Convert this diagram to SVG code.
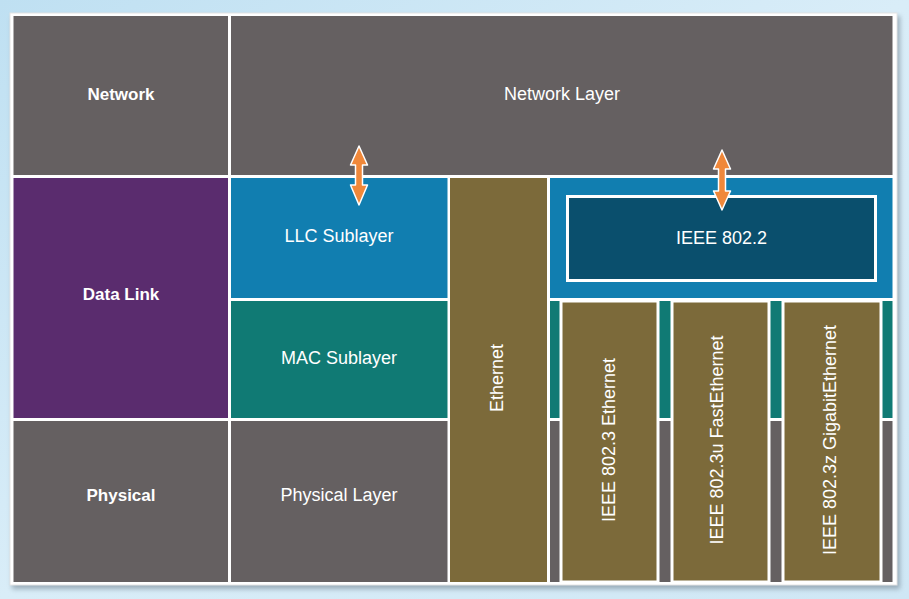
<svg xmlns="http://www.w3.org/2000/svg" width="909" height="599" viewBox="0 0 909 599">
  <defs>
    <linearGradient id="bg" x1="0" y1="0" x2="1" y2="1">
      <stop offset="0" stop-color="#bfe0f2"/>
      <stop offset="0.5" stop-color="#d9edf8"/>
      <stop offset="1" stop-color="#cfe7f5"/>
    </linearGradient>
    <filter id="shadow" x="-5%" y="-5%" width="110%" height="110%">
      <feGaussianBlur stdDeviation="2.5"/>
    </filter>
    <style>
      .gray { fill: #656061; }
      .purple { fill: #5a2c6e; }
      .blue { fill: #117eb0; }
      .teal { fill: #107a74; }
      .olive { fill: #7c6a3a; }
      .olivecol { fill: #7c6a3a; stroke: #ffffff; stroke-width: 3; }
      .dark { fill: #0a4f6d; stroke: #ffffff; stroke-width: 3; }
      .t { font-family: "Liberation Sans", Arial, sans-serif; font-size: 18px; fill: #ffffff; text-anchor: middle; }
      .b { font-family: "Liberation Sans", Arial, sans-serif; font-size: 17px; font-weight: bold; fill: #ffffff; text-anchor: middle; }
      .arrow { fill: #f0883a; stroke: #ffffff; stroke-width: 1.5; stroke-linejoin: round; }
    </style>
  </defs>

  <rect x="0" y="0" width="909" height="599" fill="url(#bg)"/>
  <rect x="12" y="16" width="888" height="573" fill="#6a7a88" opacity="0.55" filter="url(#shadow)"/>
  <rect x="10" y="13" width="887" height="572" fill="#ffffff" stroke="#e4e4e4" stroke-width="1"/>

  <g id="network">
    <rect class="gray" x="13.5" y="16" width="214.5" height="159"/>
    <text class="b" x="121" y="100">Network</text>
  </g>
  <g id="network-layer">
    <rect class="gray" x="231" y="16" width="661.5" height="159"/>
    <text class="t" x="562" y="100">Network Layer</text>
  </g>
  <g id="data-link">
    <rect class="purple" x="13.5" y="178" width="214.5" height="240"/>
    <text class="b" x="121" y="300">Data Link</text>
  </g>
  <g id="llc-sublayer">
    <rect class="blue" x="231" y="178" width="216.5" height="120"/>
    <text class="t" x="339" y="242">LLC Sublayer</text>
  </g>
  <g id="mac-sublayer">
    <rect class="teal" x="231" y="301" width="216.5" height="117"/>
    <text class="t" x="339" y="364">MAC Sublayer</text>
  </g>
  <g id="physical">
    <rect class="gray" x="13.5" y="421" width="214.5" height="161"/>
    <text class="b" x="121" y="501">Physical</text>
  </g>
  <g id="physical-layer">
    <rect class="gray" x="231" y="421" width="216.5" height="161"/>
    <text class="t" x="339" y="501">Physical Layer</text>
  </g>
  <g id="ethernet">
    <rect class="olive" x="450" y="178" width="97" height="404"/>
    <text class="t" transform="translate(503,378) rotate(-90)">Ethernet</text>
  </g>
  <g id="llc-right">
    <rect class="blue" x="550" y="178" width="342.5" height="120"/>
  </g>
  <g id="mac-right">
    <rect class="teal" x="550" y="301" width="342.5" height="117"/>
  </g>
  <g id="physical-right">
    <rect class="gray" x="550" y="421" width="342.5" height="161"/>
  </g>
  <g id="ieee-802-2">
    <rect class="dark" x="567.5" y="196.5" width="308" height="84"/>
    <text class="t" x="721.5" y="244">IEEE 802.2</text>
  </g>
  <g id="ieee-802-3">
    <rect class="olivecol" x="561" y="301" width="97" height="281"/>
    <text class="t" transform="translate(614.5,440) rotate(-90)">IEEE 802.3 Ethernet</text>
  </g>
  <g id="ieee-802-3u">
    <rect class="olivecol" x="672" y="301" width="97" height="281"/>
    <text class="t" transform="translate(722.5,440) rotate(-90)">IEEE 802.3u FastEthernet</text>
  </g>
  <g id="ieee-802-3z">
    <rect class="olivecol" x="783" y="301" width="98" height="281"/>
    <text class="t" transform="translate(836,440) rotate(-90)">IEEE 802.3z GigabitEthernet</text>
  </g>

  <g id="connectors">
    <polygon class="arrow" points="359,146 367.5,165 362.5,165 362.5,185 367.5,185 359,205 350.5,185 355.5,185 355.5,165 350.5,165"/>
    <polygon class="arrow" points="722,150 730.5,169 725.5,169 725.5,191 730.5,191 722,210 713.5,191 718.5,191 718.5,169 713.5,169"/>
  </g>
</svg>
